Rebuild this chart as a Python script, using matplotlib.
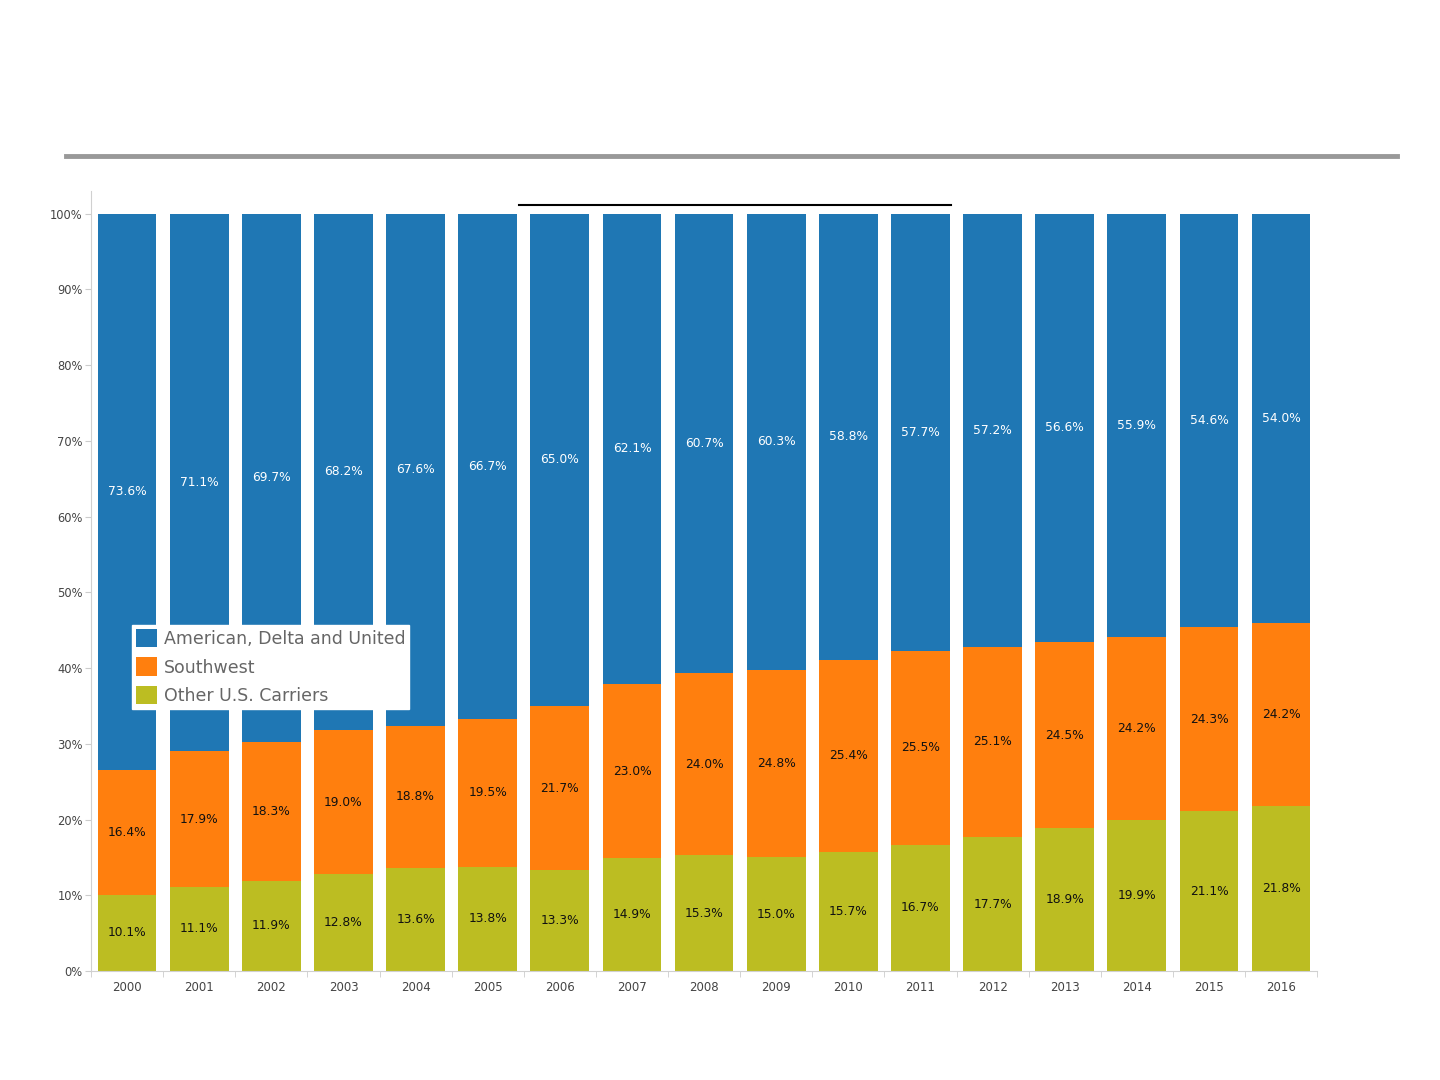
import matplotlib.pyplot as plt
from matplotlib.patches import Patch
from matplotlib.lines import Line2D
import numpy as np

years = ["2000", "2001", "2002", "2003", "2004", "2005", "2006", "2007", "2008",
         "2009", "2010", "2011", "2012", "2013", "2014", "2015", "2016"]
other = [10.1, 11.1, 11.9, 12.8, 13.6, 13.8, 13.3, 14.9, 15.3, 15.0, 15.7, 16.7, 17.7, 18.9, 19.9, 21.1, 21.8]
southwest = [16.4, 17.9, 18.3, 19.0, 18.8, 19.5, 21.7, 23.0, 24.0, 24.8, 25.4, 25.5, 25.1, 24.5, 24.2, 24.3, 24.2]
big3 = [73.6, 71.1, 69.7, 68.2, 67.6, 66.7, 65.0, 62.1, 60.7, 60.3, 58.8, 57.7, 57.2, 56.6, 55.9, 54.6, 54.0]
series_names = ["American, Delta and United", "Southwest", "Other U.S. Carriers"]

col_big3 = "#1f77b4"
col_sw = "#ff7f0e"
col_other = "#bcbd22"

plt.rcParams["font.family"] = ["DejaVu Sans"]

fig = plt.figure(figsize=(14.4, 10.8), dpi=100)
ax = fig.add_axes([0.0632, 0.1009, 0.8515, 0.7223])

x = np.arange(len(years))
w = 0.815
other_a = np.array(other)
sw_a = np.array(southwest)

ax.bar(x, other_a, width=w, color=col_other)
ax.bar(x, sw_a, width=w, bottom=other_a, color=col_sw)
big_top = 100 - other_a - sw_a
ax.bar(x, big_top, width=w, bottom=other_a + sw_a, color=col_big3)

for i in range(len(years)):
    ax.text(x[i], other_a[i] / 2, f"{other[i]:.1f}%", ha="center", va="center",
            fontsize=8.8, color="#111111")
    ax.text(x[i], other_a[i] + sw_a[i] / 2, f"{southwest[i]:.1f}%", ha="center", va="center",
            fontsize=8.8, color="#111111")
    ax.text(x[i], other_a[i] + sw_a[i] + big_top[i] / 2, f"{big3[i]:.1f}%", ha="center",
            va="center", fontsize=8.8, color="white")

ax.set_xlim(-0.49, 16.44)
ax.set_ylim(0, 103)
ax.set_yticks(range(0, 101, 10))
ax.set_yticklabels([f"{v}%" for v in range(0, 101, 10)])
ax.set_xticks(x)
ax.set_xticklabels(years)
ax.set_xticks(np.arange(-0.5, 16.6, 1), minor=True)
ax.tick_params(axis="x", which="major", length=0, labelsize=8.5, labelcolor="#444444", pad=7)
ax.tick_params(axis="x", which="minor", length=4, color="#cccccc")
ax.tick_params(axis="y", length=4, color="#cccccc", labelsize=8.3, labelcolor="#444444", pad=2)

for s in ["top", "right"]:
    ax.spines[s].set_visible(False)
for s in ["left", "bottom"]:
    ax.spines[s].set_color("#d0d0d0")

handles = [Patch(facecolor=col_big3), Patch(facecolor=col_sw), Patch(facecolor=col_other)]
leg = ax.legend(handles, series_names, loc="upper left", bbox_to_anchor=(0.0335, 0.443),
                borderaxespad=0, frameon=True, fancybox=False, fontsize=12.5,
                handlelength=1.25, handleheight=1.25, handletextpad=0.4, labelspacing=0.55,
                borderpad=0.2, framealpha=1, edgecolor="white", labelcolor="#666666")

# header rules
fig.add_artist(Line2D([66 / 1440, 1397 / 1440], [1 - 156 / 1080] * 2, color="#999999", lw=3.5))
fig.add_artist(Line2D([519 / 1440, 951 / 1440], [1 - 205 / 1080] * 2, color="black", lw=1.5))

fig.savefig("out.png", dpi=100)
